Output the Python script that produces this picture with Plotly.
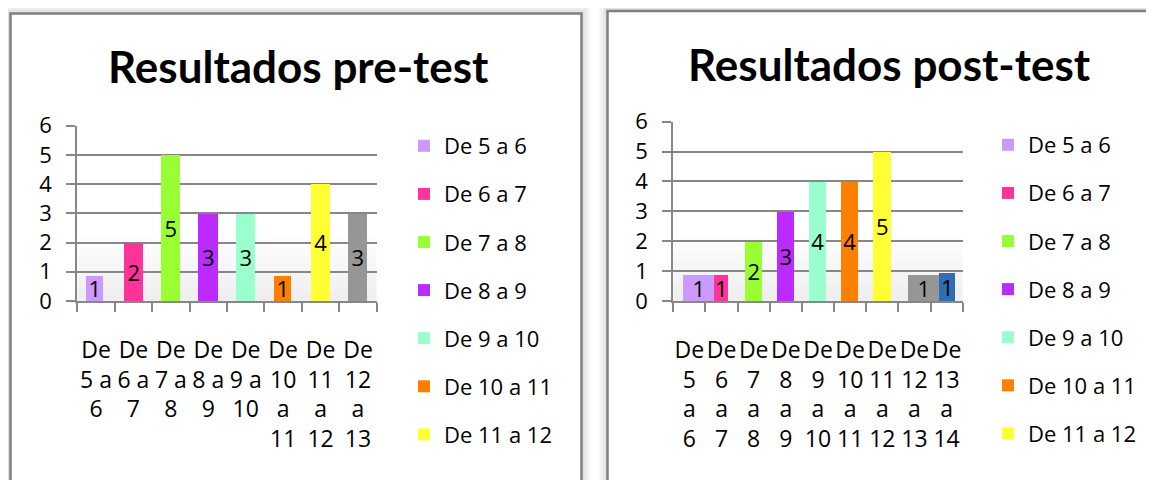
import plotly.graph_objects as go

# page body has an 8px default margin, so the figure is drawn 8px smaller
PAGE_MARGIN = 8
W, H = 1154 - PAGE_MARGIN, 480 - PAGE_MARGIN

# ---------------- data ----------------
pre_categories = ["De 5 a 6", "De 6 a 7", "De 7 a 8", "De 8 a 9", "De 9 a 10",
                  "De 10 a 11", "De 11 a 12", "De 12 a 13"]
pre_ticklabels = ["De<br>5 a<br>6", "De<br>6 a<br>7", "De<br>7 a<br>8", "De<br>8 a<br>9",
                  "De<br>9 a<br>10", "De<br>10<br>a<br>11", "De<br>11<br>a<br>12",
                  "De<br>12<br>a<br>13"]
pre_values = [0.87, 2, 5, 3, 3, 0.87, 4, 3]          # drawn bar heights
pre_labels = ["1", "2", "5", "3", "3", "1", "4", "3"]  # data labels

post_categories = ["De 5 a 6", "De 6 a 7", "De 7 a 8", "De 8 a 9", "De 9 a 10",
                   "De 10 a 11", "De 11 a 12", "De 12 a 13", "De 13 a 14"]
post_ticklabels = ["De<br>5<br>a<br>6", "De<br>6<br>a<br>7", "De<br>7<br>a<br>8",
                   "De<br>8<br>a<br>9", "De<br>9<br>a<br>10", "De<br>10<br>a<br>11",
                   "De<br>11<br>a<br>12", "De<br>12<br>a<br>13", "De<br>13<br>a<br>14"]
post_values = [0.87, 0.87, 2, 3, 4, 4, 5, 0.87, 0.95]
post_labels = ["1", "1", "2", "3", "4", "4", "5", "1", "1"]

# ---------------- style ----------------
colors = ["#CC99FF", "#FF3399", "#99FF33", "#BB2BFF", "#99FFCC",
          "#FF8000", "#FFFF33", "#969696", "#2F6DB5"]
pre_width = [0.45, 0.51, 0.51, 0.51, 0.51, 0.45, 0.51, 0.51]
pre_offset = [-0.26, -0.255, -0.255, -0.255, -0.255, -0.225, -0.255, -0.255]
post_width = [0.96, 0.43, 0.53, 0.53, 0.53, 0.53, 0.53, 0.94, 0.52]
post_offset = [-0.19, -0.23, -0.265, -0.265, -0.265, -0.265, -0.265, -0.18, -0.24]
LEGEND_SHOWN = 7

FONT = "Open Sans"
TITLE_FONT = "Lato"
GRID = "#878787"

def X(px):
    return (px - PAGE_MARGIN) / W

def Y(py):
    return 1 - (py - PAGE_MARGIN) / H

fig = go.Figure()

for i, cat in enumerate(pre_categories):
    fig.add_trace(go.Bar(
        x=[pre_ticklabels[i]], y=[pre_values[i]], name=cat,
        text=[pre_labels[i]], textposition="inside", insidetextanchor="middle",
        textangle=0, constraintext="none",
        textfont=dict(family=FONT, size=22, color="black"),
        marker=dict(color=colors[i], line=dict(width=0)),
        width=pre_width[i], offset=pre_offset[i],
        xaxis="x", yaxis="y", legend="legend", legendgroup="a%d" % i,
        showlegend=i < LEGEND_SHOWN, hoverinfo="x+y"))

for i, cat in enumerate(post_categories):
    fig.add_trace(go.Bar(
        x=[post_ticklabels[i]], y=[post_values[i]], name=cat,
        text=[post_labels[i]], textposition="inside", insidetextanchor="middle",
        textangle=0, constraintext="none",
        textfont=dict(family=FONT, size=22, color="black"),
        marker=dict(color=colors[i], line=dict(width=0)),
        width=post_width[i], offset=post_offset[i],
        xaxis="x2", yaxis="y2", legend="legend2", legendgroup="b%d" % i,
        showlegend=i < LEGEND_SHOWN, hoverinfo="x+y"))

axis_common = dict(
    showline=True, linecolor=GRID, linewidth=2,
    ticks="outside", ticklen=9, tickwidth=2, tickcolor=GRID,
    fixedrange=True, automargin=False, tickangle=0,
)
xfont = dict(family=FONT, size=23, color="black")
yfont = dict(family=FONT, size=22, color="black")

shapes = []
# panel shadows + borders
def panel(x0, y0, x1, y1):
    for k in range(9, 0, -1):
        a = 0.10 * (1 - k / 10.0)
        shapes.append(dict(type="rect", xref="paper", yref="paper",
                           x0=X(x0 - k), x1=X(x1 + k), y0=Y(y1 + k), y1=Y(y0 - k),
                           line=dict(color="rgba(0,0,0,%.3f)" % a, width=1.5),
                           fillcolor="rgba(0,0,0,0)", layer="below"))
    shapes.append(dict(type="rect", xref="paper", yref="paper",
                       x0=X(x0), x1=X(x1), y0=Y(y1), y1=Y(y0),
                       line=dict(color="#808080", width=2.5),
                       fillcolor="white", layer="below"))

panel(10.5, 13.5, 581.5, 520)
panel(607.5, 11, 1200, 520)

# subtle floor shading
for xr, yr in (("x domain", "y"), ("x2 domain", "y2")):
    for j in range(1, 9):
        shapes.append(dict(type="rect", xref=xr, yref=yr, x0=0, x1=1, y0=0, y1=0.27 * j,
                           line=dict(width=0), fillcolor="rgba(0,0,0,0.008)", layer="below"))

fig.update_layout(
    template="none",
    width=W, height=H,
    margin=dict(l=0, r=0, t=0, b=0, autoexpand=False),
    paper_bgcolor="white", plot_bgcolor="rgba(0,0,0,0)",
    barmode="overlay", bargap=0,
    showlegend=True,
    font=dict(family=FONT, size=22, color="black"),
    xaxis=dict(domain=[X(77.3), X(376.7)], anchor="y", type="category",
               tickson="boundaries", showgrid=False, ticklabelstandoff=27,
               tickfont=xfont, **axis_common),
    yaxis=dict(domain=[Y(301), Y(125.7)], anchor="x", range=[0, 6], dtick=1,
               showgrid=True, gridcolor=GRID, gridwidth=2, zeroline=False,
               ticklabelstandoff=10, tickfont=yfont, **axis_common),
    xaxis2=dict(domain=[X(673.3), X(962.7)], anchor="y2", type="category",
                tickson="boundaries", showgrid=False, ticklabelstandoff=27,
                tickfont=xfont, **axis_common),
    yaxis2=dict(domain=[Y(301), Y(121.7)], anchor="x2", range=[0, 6], dtick=1,
                showgrid=True, gridcolor=GRID, gridwidth=2, zeroline=False,
                ticklabelstandoff=10, tickfont=yfont, **axis_common),
    legend=dict(x=X(404), y=Y(125), xanchor="left", yanchor="top",
                tracegroupgap=16.5, bgcolor="rgba(0,0,0,0)",
                font=dict(family=FONT, size=22, color="black")),
    legend2=dict(x=X(988), y=Y(124), xanchor="left", yanchor="top",
                 tracegroupgap=16.5, bgcolor="rgba(0,0,0,0)",
                 font=dict(family=FONT, size=22, color="black")),
    shapes=shapes,
    annotations=[
        dict(text="<b>Resultados pre-test</b>", xref="paper", yref="paper",
             x=X(298.5), y=Y(66), xanchor="center", yanchor="middle", showarrow=False,
             font=dict(family=TITLE_FONT, size=44, color="black")),
        dict(text="<b>Resultados post-test</b>", xref="paper", yref="paper",
             x=X(889.5), y=Y(64), xanchor="center", yanchor="middle", showarrow=False,
             font=dict(family=TITLE_FONT, size=44, color="black")),
    ],
)

fig.write_html("out.html")
